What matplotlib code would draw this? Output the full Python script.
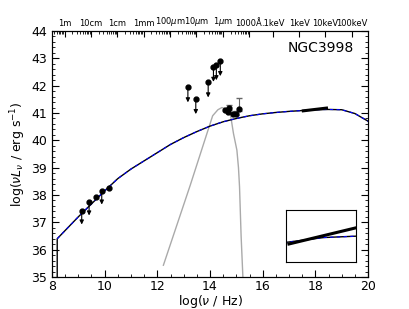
import numpy as np
import matplotlib
matplotlib.use("Agg")
import matplotlib.pyplot as plt
from matplotlib.ticker import MultipleLocator

# model SED (black line with blue dashes on top)
model_x = [8.2, 8.2, 9.0, 10.0, 10.5, 11.0, 11.5, 12.0, 12.5, 13.0, 13.5, 14.0, 14.5,
           15.0, 15.5, 16.0, 16.5, 17.0, 17.5, 18.0, 18.5, 19.0, 19.5, 20.0]
model_y = [34.0, 36.4, 37.2, 38.15, 38.6, 38.95, 39.25, 39.55, 39.85, 40.1, 40.32, 40.52, 40.68,
           40.8, 40.9, 40.97, 41.02, 41.06, 41.09, 41.12, 41.13, 41.12, 40.98, 40.7]

# host galaxy template (grey)
host_x = [12.23, 13.25, 14.1, 14.3, 14.45, 14.6, 14.77, 14.89, 15.02, 15.08, 15.12, 15.18, 15.27]
host_y = [35.43, 38.36, 40.9, 41.12, 41.2, 41.15, 40.98, 40.25, 39.64, 39.0, 38.3, 36.5, 34.5]

# x-ray power law
xray_x = [17.54, 18.42]
xray_y = [41.08, 41.18]

# radio points
radio_x = [9.13, 9.41, 9.67, 9.89, 10.16]
radio_y = [37.42, 37.75, 37.91, 38.15, 38.24]
radio_lim = [True, True, False, True, False]

# IR upper limits
ir_x = [13.16, 13.46, 13.93, 14.13, 14.24, 14.39]
ir_y = [41.94, 41.51, 42.12, 42.69, 42.75, 42.9]

# optical/UV points with errors
opt_x = [14.58, 14.73, 14.70, 14.89, 14.98, 15.11]
opt_y = [41.10, 41.17, 41.02, 40.96, 40.96, 41.14]
opt_err = [0.0, 0.12, 0.0, 0.0, 0.12, 0.42]

top_labels = ['1m', '10cm', '1cm', '1mm', r'100$\mu$m', r'10$\mu$m', r'1$\mu$m',
              u'1000\u00c5', '.1keV', '1keV', '10keV', '100keV']
top_pos = [8.477, 9.477, 10.477, 11.477, 12.477, 13.477, 14.477, 15.477,
           16.383, 17.383, 18.383, 19.383]

fig = plt.figure(figsize=(4.09, 3.09), dpi=100)
ax = fig.add_axes([0.127, 0.1036, 0.773, 0.796])

ax.plot(model_x, model_y, color='black', lw=1.0, zorder=2)
ax.plot(model_x[1:], model_y[1:], color='blue', lw=0.8, ls=(0, (3, 3)), zorder=3)
ax.plot(host_x, host_y, color='#aaaaaa', lw=1.0, zorder=1)
ax.plot(xray_x, xray_y, color='black', lw=2.2, zorder=4)

arrow = dict(arrowstyle='-|>', color='black', lw=0.8, mutation_scale=6,
             shrinkA=0, shrinkB=0)
for x, y, lim in zip(radio_x, radio_y, radio_lim):
    ax.plot(x, y, 'o', color='black', ms=3.5, zorder=5)
    if lim:
        ax.annotate('', xy=(x, y - 0.5), xytext=(x, y), arrowprops=arrow, zorder=6)
for x, y in zip(ir_x, ir_y):
    ax.plot(x, y, 'o', color='black', ms=3.5, zorder=5)
    ax.annotate('', xy=(x, y - 0.55), xytext=(x, y), arrowprops=arrow, zorder=6)
for x, y, e in zip(opt_x, opt_y, opt_err):
    if e > 0:
        ax.errorbar(x, y, yerr=[[0.05], [e]], fmt='none', ecolor='#666666',
                    elinewidth=0.8, capsize=2, zorder=4)
    ax.plot(x, y, 'o', color='black', ms=3.5, zorder=5)

ax.set_xlim(8, 20)
ax.set_ylim(35, 44)
ax.xaxis.set_major_locator(MultipleLocator(2))
ax.xaxis.set_minor_locator(MultipleLocator(0.5))
ax.yaxis.set_major_locator(MultipleLocator(1))
ax.yaxis.set_minor_locator(MultipleLocator(0.2))
ax.tick_params(which='both', direction='in', right=True, labelsize=9)
ax.tick_params(axis='x', pad=2)
ax.tick_params(which='major', length=5)
ax.tick_params(which='minor', length=2.5)
ax.set_xlabel(r'log($\nu$ / Hz)', fontsize=9, labelpad=0)
ax.set_ylabel(r'log($\nu L_\nu$ / erg s$^{-1}$)', fontsize=9, labelpad=2)
ax.text(0.955, 0.93, 'NGC3998', transform=ax.transAxes, ha='right', va='center',
        fontsize=10)

top = ax.twiny()
top.set_xlim(ax.get_xlim())
top.set_xticks(top_pos)
top.set_xticklabels(top_labels, fontsize=6)
minor = [p + np.log10(k) for p in [7.477, 8.477, 9.477, 10.477, 11.477, 12.477, 13.477, 14.477]
         for k in range(2, 10)]
top.set_xticks([m for m in minor if 8 < m < 15.48], minor=True)
top.tick_params(which='both', direction='in', pad=2)
top.tick_params(which='major', length=4)
top.tick_params(which='minor', length=2)

ins = fig.add_axes([0.699, 0.153, 0.171, 0.167])
ins.plot(model_x, model_y, color='black', lw=1.0)
ins.plot(model_x, model_y, color='blue', lw=0.8, ls=(0, (3, 3)))
ins.plot(xray_x, xray_y, color='black', lw=2.2)
ins.set_xlim(17.5, 18.42)
ins.set_ylim(40.97, 41.29)
ins.set_xticks([])
ins.set_yticks([])

fig.savefig('out.png', dpi=100)
